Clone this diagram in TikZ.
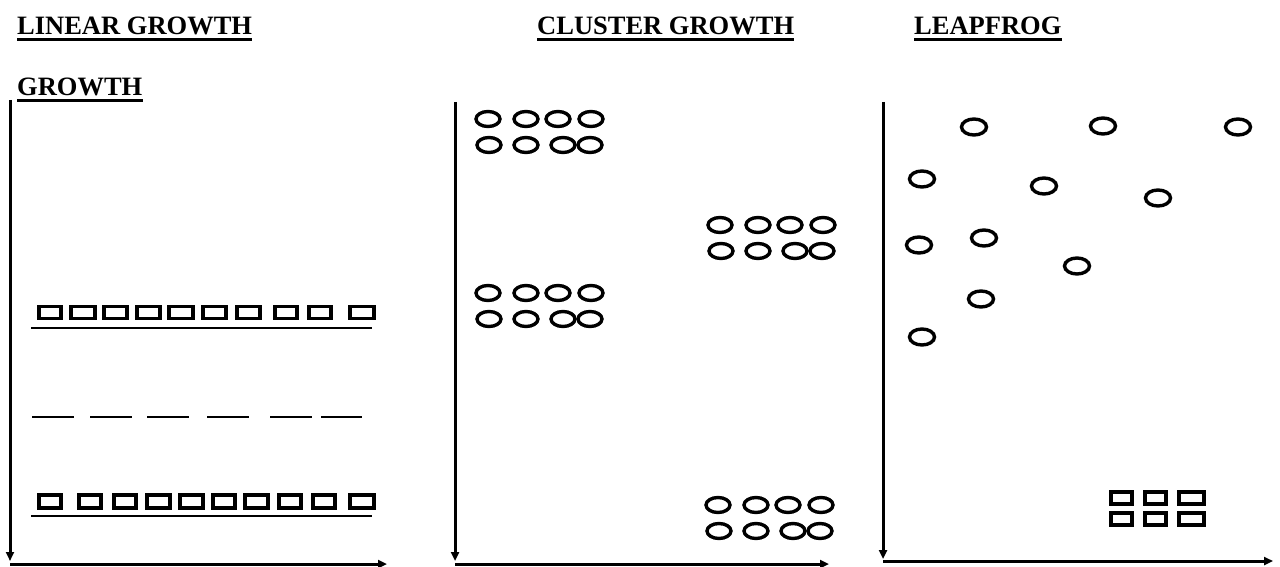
\documentclass[tikz,border=0pt]{standalone}
\usepackage{fontspec}
\setmainfont{Liberation Serif}
\usepackage{tikz}
\usetikzlibrary{arrows.meta}
\definecolor{cink}{HTML}{000000}

\tikzset{
  title/.style={anchor=base west,inner sep=0pt,font=\fontsize{26.5}{30}\selectfont\bfseries},
  uline/.style={line width=2.6pt},
  axis/.style={line width=3pt,-{Triangle[length=9pt,width=8pt]}},
  sq/.style={line width=3.6pt},
  ring/.style={line width=3.4pt},
  cluster/.pic={
    \foreach \cx/\cy in {0/0,38/0,70/0,103/0,1/26,38/26,75/26,102/26}
      \draw[ring] (\cx,\cy) ellipse [x radius=12, y radius=7.5];
  }
}

\begin{document}
\begin{tikzpicture}[x=1pt,y=-1pt,cink]
    \useasboundingbox (0,0) rectangle (1280,567);
    % titles
    \node[title] (lin) at (17,35) {LINEAR GROWTH};
    \node[title] (lin2) at (17,96) {GROWTH};
    \node[title] (clu) at (537,35) {CLUSTER GROWTH};
    \node[title] (leap) at (914,35) {LEAPFROG};
    \foreach \t in {lin,lin2,clu,leap}
      \draw[uline] ([yshift=-4.5pt]\t.base west) -- ([yshift=-4.5pt]\t.base east);
    % axes
    \coordinate (o1) at (10,564);
    \draw[axis] (10,100) -- (10,561);
    \draw[axis] (o1) -- (387,564);
    \coordinate (o2) at (455,564);
    \draw[axis] (455,102) -- (455,561);
    \draw[axis] (o2) -- (829,564);
    \coordinate (o3) at (883,561);
    \draw[axis] (883,102) -- (883,559);
    \draw[axis] (o3) -- (1273,561);
    % linear growth
    \foreach \a/\b in {37/63,69/97,102/129,135/162,167/195,201/228,235/262,273/299,307/333,348/376}
      \draw[sq] (\a+1.8,306.5) rectangle (\b-1.8,318.5);
    \draw[uline] (31,328) -- (372,328);
    \foreach \a/\b in {32/74,90/132,147/189,207/249,270/312,321/362}
      \draw[line width=2.2pt] (\a,417) -- (\b,417);
    \foreach \a/\b in {37/63,77/103,112/138,145/172,178/205,211/237,243/270,277/303,311/337,348/376}
      \draw[sq] (\a+1.8,495) rectangle (\b-1.8,508);
    \draw[uline] (31,516) -- (372,516);
    % cluster growth
    \pic at (488,119) {cluster};
    \pic at (488,293) {cluster};
    \pic at (720,225) {cluster};
    \pic at (718,505) {cluster};
    % leapfrog
    \foreach \cx/\cy in {974/127,1103/126,1238/127,922/179,1044/186,1158/198,919/245,984/238,1077/266,981/299,922/337}
      \draw[ring] (\cx,\cy) ellipse [x radius=12.5, y radius=8];
    \foreach \a/\b in {1109/1134,1143/1168,1177/1206}
      \foreach \u/\v in {490/506,511/527}
        \draw[sq] (\a+1.8,\u+1.8) rectangle (\b-1.8,\v-1.8);
\end{tikzpicture}
\end{document}
